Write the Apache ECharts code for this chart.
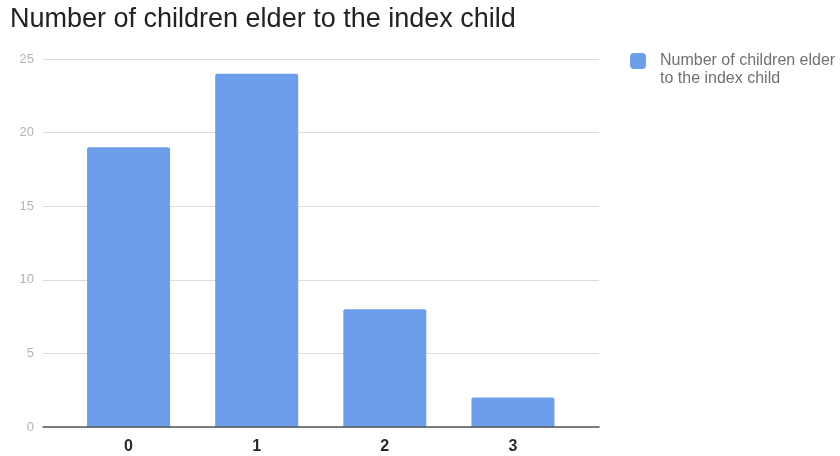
<!DOCTYPE html>
<html>
<head>
<meta charset="utf-8">
<script src="https://cdn.jsdelivr.net/npm/echarts@6/dist/echarts.min.js"></script>
<style>
html,body{margin:0;padding:0;background:#fff;}
#chart{width:840px;height:456px;}
</style>
</head>
<body>
<div id="chart"></div>
<script>
const titleText = 'Number of children elder to the index child';
const seriesName = 'Number of children elder to the index child';
const legendLines = ['Number of children elder', 'to the index child'];
const categories = ['0', '1', '2', '3'];
const values = [19, 24, 8, 2];
const yTicks = [0, 5, 10, 15, 20, 25];

const chart = echarts.init(document.getElementById('chart'), null, {renderer: 'canvas'});
const font = '"Liberation Sans", Arial, Helvetica, sans-serif';
chart.setOption({
  animation: false,
  backgroundColor: '#ffffff',
  title: {
    text: titleText,
    left: 5, top: 1,
    textStyle: {fontFamily: font, fontSize: 27, fontWeight: 'normal', color: '#222222'}
  },
  legend: {
    show: true,
    left: 625, top: 29,
    orient: 'vertical',
    icon: 'roundRect',
    itemWidth: 16, itemHeight: 16,
    formatter: function () { return '\n' + legendLines.join('\n'); },
    textStyle: {fontFamily: font, fontSize: 16, color: '#707070', lineHeight: 18, padding: [0, 0, 0, 9]}
  },
  grid: [
    {left: 43, right: 241, top: 59, bottom: 29},
    {left: 64.5, right: 263, top: 59, bottom: 29}
  ],
  xAxis: [
    {type: 'value', gridIndex: 0, min: 0, max: 1, axisLabel: {show: false}, axisTick: {show: false},
     splitLine: {show: false}, axisLine: {show: true, lineStyle: {color: '#555555', width: 1.5}}, z: 5},
    {type: 'category', gridIndex: 1, data: categories, axisLine: {show: false}, axisTick: {show: false},
     axisLabel: {margin: 12, fontFamily: font, fontSize: 16, fontWeight: 'bold', color: '#2a2a2a'}}
  ],
  yAxis: [
    {type: 'value', gridIndex: 0, min: 0, max: 25, interval: 5,
     axisLine: {show: false}, axisTick: {show: false},
     axisLabel: {margin: 9, fontFamily: font, fontSize: 13, color: '#b4b4b4',
       formatter: function (v) { return yTicks.indexOf(v) >= 0 ? String(v) : ''; }},
     splitLine: {show: true, lineStyle: {color: '#dcdcdc', width: 1}}},
    {type: 'value', gridIndex: 1, min: 0, max: 25, interval: 5, show: false, splitLine: {show: false}}
  ],
  series: [{
    name: seriesName,
    type: 'bar',
    xAxisIndex: 1, yAxisIndex: 1,
    data: values,
    barWidth: 83,
    itemStyle: {color: '#6d9eeb', borderRadius: [2, 2, 0, 0]}
  }]
});
</script>
</body>
</html>
